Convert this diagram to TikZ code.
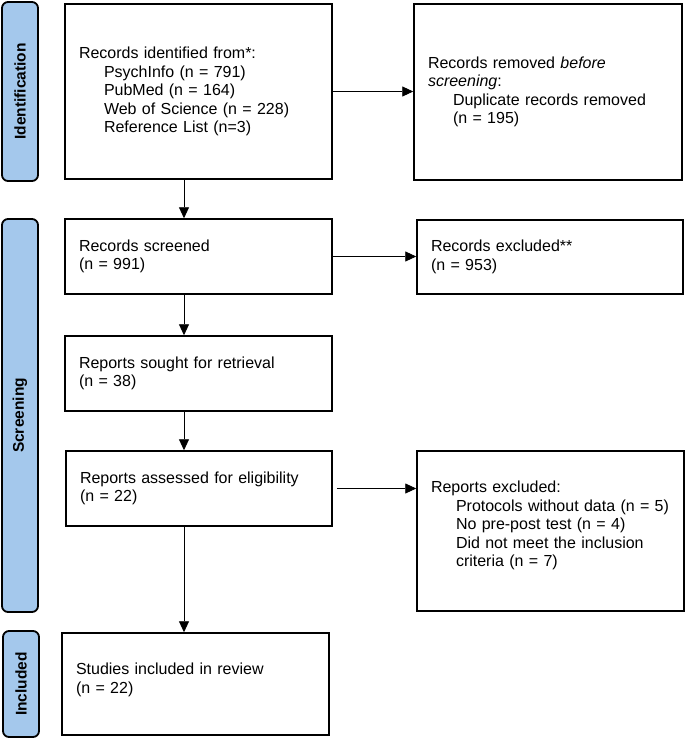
\documentclass[tikz,border=0pt]{standalone}
\usepackage{fontspec}
\setmainfont{Liberation Sans}
\usetikzlibrary{arrows.meta}
\definecolor{barblue}{HTML}{A4C8EC}
\newcommand{\ind}{\hspace*{25pt}}
\tikzset{
  x=1pt, y=-1pt,
  box/.style={draw=black, line width=1.5pt, rectangle, align=left,
    inner xsep=14pt, inner ysep=4pt, anchor=center,
    font=\fontsize{16}{18.4}\selectfont},
  bar/.style={draw=black, line width=1.8pt, fill=barblue, rounded corners=6pt},
  barlabel/.style={rotate=90, font=\fontsize{15.5}{18}\selectfont\bfseries},
  arr/.style={line width=0.9pt, -{Triangle[length=11pt,width=10pt]}}
}
\begin{document}
\begin{tikzpicture}
\useasboundingbox (0,0) rectangle (685,739);
% side bars
\draw[bar] (2,2) rectangle (38,181);
\node[barlabel] (lid) at (20,91.5) {Identification};
\draw[bar] (2,219) rectangle (38,612);
\node[barlabel] (lscr) at (20,415.5) {Screening};
\draw[bar] (3,631) rectangle (39,737);
\node[barlabel] (linc) at (21,684) {Included};
% boxes
\node[box, minimum height=175pt, text width=239pt] (id) at (198.5,91.5)
 {Records identified from*:\\\ind PsychInfo (n = 791)\\\ind PubMed (n = 164)\\\ind Web of Science (n = 228)\\\ind Reference List (n=3)};
\node[box, minimum height=176pt, text width=240pt] (rem) at (548,92)
 {Records removed \textit{before}\\\textit{screening}:\\\ind Duplicate records removed\\\ind (n = 195)};
\node[box, minimum height=75pt, text width=239pt] (scr) at (198.5,256.5)
 {Records screened\\(n = 991)};
\node[box, minimum height=74pt, text width=238pt] (exc) at (550,257)
 {Records excluded**\\(n = 953)};
\node[box, minimum height=75pt, text width=239pt] (sought) at (198.5,373.5)
 {Reports sought for retrieval\\(n = 38)};
\node[box, minimum height=75pt, text width=238pt] (assess) at (199,488.5)
 {Reports assessed for eligibility\\(n = 22)};
\node[box, minimum height=160pt, text width=239pt] (rexc) at (550.5,531)
 {Reports excluded:\\\ind Protocols without data (n = 5)\\\ind No pre-post test (n = 4)\\\ind Did not meet the inclusion\\\ind criteria (n = 7)\\[-4pt]\mbox{}};
\node[box, minimum height=102pt, text width=239pt] (incl) at (195.5,684)
 {Studies included in review\\(n = 22)\\[-7pt]\mbox{}};
% connectors
\coordinate (cx) at (184,0);
\draw[arr] (id.south -| cx) -- (scr.north -| cx);
\draw[arr] (scr.south -| cx) -- (sought.north -| cx);
\draw[arr] (sought.south -| cx) -- (assess.north -| cx);
\draw[arr] (assess.south -| cx) -- (incl.north -| cx);
\draw[arr] (id.east) -- (id.east -| rem.west);
\draw[arr] (scr.east) -- (scr.east -| exc.west);
\draw[arr, shorten <=4pt] (assess.east) -- (assess.east -| rexc.west);
\end{tikzpicture}
\end{document}
